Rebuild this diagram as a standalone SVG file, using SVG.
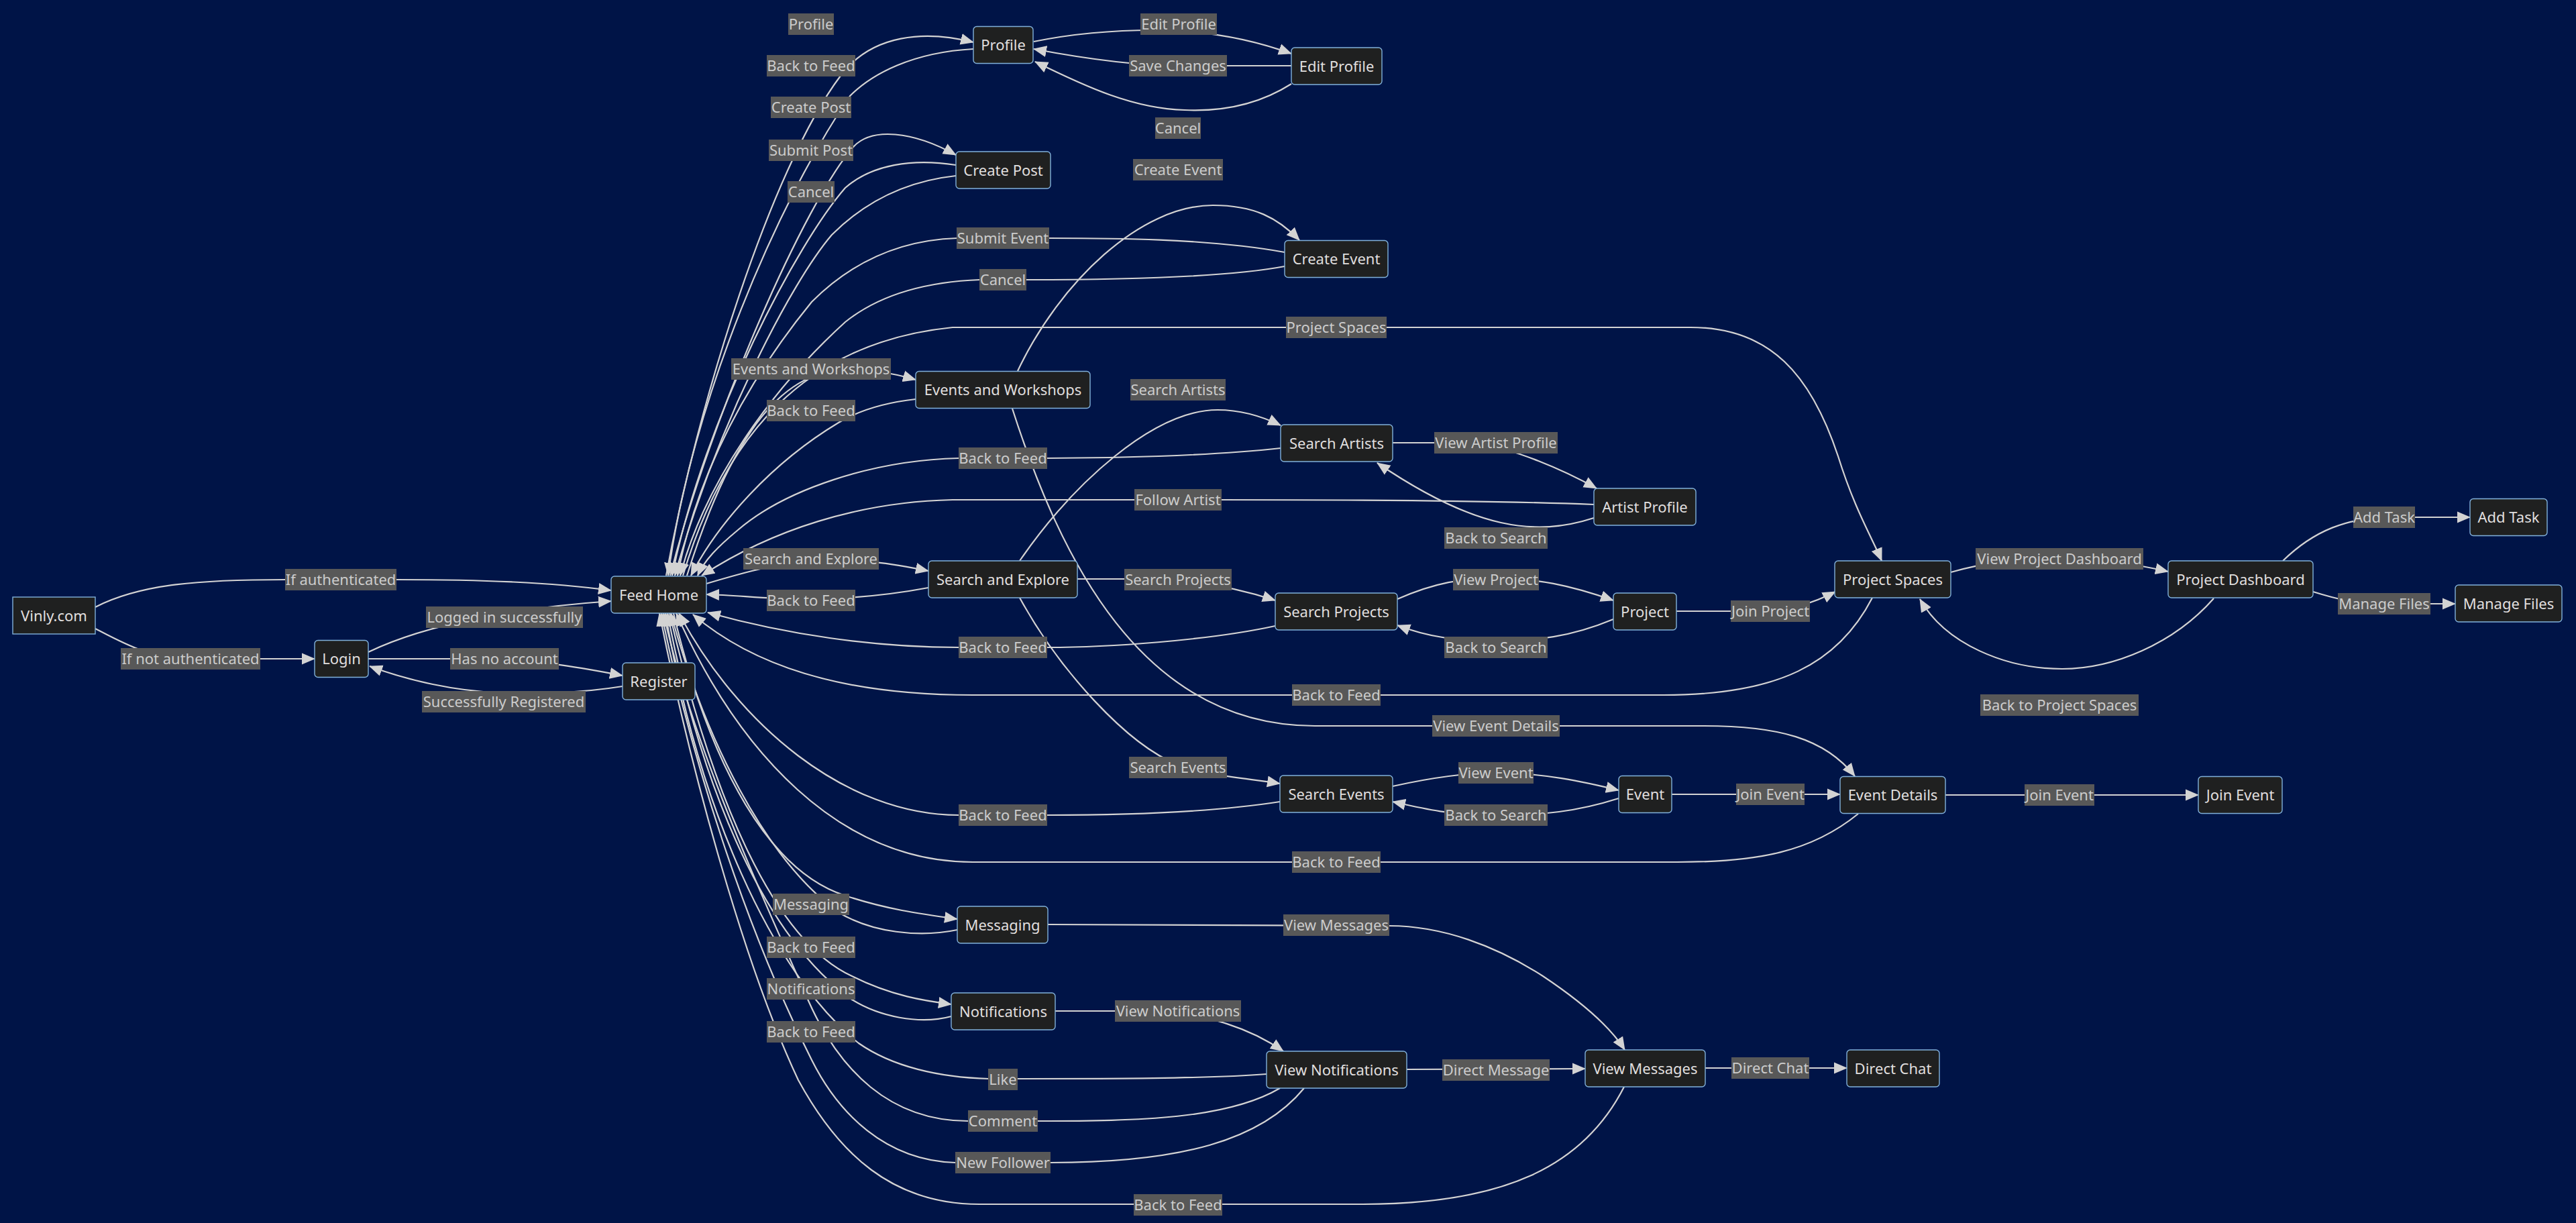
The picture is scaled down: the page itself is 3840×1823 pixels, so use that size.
<svg xmlns="http://www.w3.org/2000/svg" width="3840" height="1823" viewBox="0 0 3840 1823">
<defs>
<marker id="arrow" markerUnits="userSpaceOnUse" markerWidth="20" markerHeight="18" viewBox="0 0 20 18" refX="19" refY="9" orient="auto">
<path d="M0,0.5 L20,9 L0,17.5 z" fill="#d3d3d3"/>
</marker>
<style>
text{font-family:"Noto Sans","Open Sans","DejaVu Sans",sans-serif;font-size:22px;text-anchor:middle}
.node rect{fill:#1f2020;stroke:#81B1DB;stroke-width:1.4}
.node text{fill:#e0dfdf}
#connectors path{fill:none;stroke:#d3d3d3;stroke-width:2.2;marker-end:url(#arrow)}
.lbl rect{fill:#585858}
.lbl text{fill:#cccccc}
</style>
</defs>
<rect x="0" y="0" width="3840" height="1823" fill="#001447"/>

<g id="connectors">
<path d="M142,905 C210,870 300,864 426,864 L591,864 C720,864 820,868 911,880"/>
<path d="M142,937 C190,962 225,982 290,982 L469,982"/>
<path d="M549,972 C640,928 780,905 911,896"/>
<path d="M549,982 L700,982 C800,982 870,996 928,1007"/>
<path d="M928,1023 C860,1034 800,1034 740,1032 C680,1030 610,1015 551,993"/>
<path d="M993,858 C1040,600 1150,250 1253,113 C1300,50 1380,45 1451,63"/>
<path d="M1451,73 C1360,78 1300,110 1267,143 C1160,300 1030,600 996,858"/>
<path d="M1541,62 C1600,50 1660,45 1720,45 C1800,45 1870,60 1925,80"/>
<path d="M1925,98 L1760,98 C1700,98 1620,88 1541,73"/>
<path d="M1925,125 C1870,160 1810,166 1766,164 C1690,162 1620,130 1543,92"/>
<path d="M999,858 C1060,620 1200,300 1273,218 C1300,190 1360,195 1425,231"/>
<path d="M1425,246 C1360,236 1300,245 1260,280 C1190,360 1050,620 1002,858"/>
<path d="M1425,262 C1350,270 1290,300 1240,350 C1180,420 1070,630 1006,858"/>
<path d="M1517,553 C1580,420 1700,306 1808,306 C1870,306 1905,325 1937,358"/>
<path d="M1915,376 C1800,355 1650,355 1564,355 L1427,355 C1330,358 1260,400 1210,450 C1120,560 1040,700 1010,858"/>
<path d="M1915,397 C1820,415 1650,417 1530,417 L1461,417 C1380,420 1310,440 1260,480 C1150,580 1050,720 1014,858"/>
<path d="M1018,858 C1080,650 1200,510 1420,488 L2520,488 C2640,488 2700,560 2740,680 C2765,760 2790,800 2805,836"/>
<path d="M1024,858 C1080,680 1150,560 1250,552 C1300,550 1330,556 1365,566"/>
<path d="M1365,595 C1320,600 1280,612 1250,630 C1150,690 1070,780 1030,858"/>
<path d="M1520,836 C1600,720 1720,611 1815,611 C1850,611 1880,620 1909,634"/>
<path d="M1909,668 C1800,680 1650,683 1561,683 L1429,683 C1300,686 1170,730 1100,790 C1070,815 1050,835 1040,858"/>
<path d="M2376,752 C2200,745 1900,745 1821,745 L1420,745 C1280,748 1150,790 1046,858"/>
<path d="M2076,660 L2200,660 C2260,670 2330,700 2380,728"/>
<path d="M2376,772 C2290,800 2200,790 2053,690"/>
<path d="M1053,870 C1120,850 1160,840 1209,836 C1280,832 1330,840 1384,851"/>
<path d="M1384,876 C1320,888 1260,893 1200,893 C1140,893 1100,887 1053,886"/>
<path d="M1606,863 L1700,863 C1780,863 1850,878 1901,895"/>
<path d="M2083,893 C2140,868 2180,862 2230,862 C2290,862 2340,872 2405,895"/>
<path d="M2405,923 C2340,950 2290,955 2230,955 C2170,955 2130,950 2083,932"/>
<path d="M1901,933 C1800,955 1650,965 1561,965 L1429,965 C1300,965 1170,945 1055,913"/>
<path d="M2499,911 L2620,911 C2670,910 2705,898 2736,882"/>
<path d="M2908,853 C2960,838 3010,833 3070,833 C3130,833 3180,840 3232,852"/>
<path d="M3403,836 C3450,790 3500,772 3560,771 L3682,771"/>
<path d="M3448,882 C3480,892 3510,900 3554,900 L3660,900"/>
<path d="M3300,892 C3240,960 3150,997 3074,997 C2990,997 2900,960 2862,893"/>
<path d="M2791,891 C2740,990 2650,1036 2480,1036 L1450,1036 C1250,1036 1120,990 1033,916"/>
<path d="M1509,609 C1580,830 1700,1082 1960,1082 L2540,1082 C2650,1082 2720,1100 2765,1157"/>
<path d="M1520,891 C1580,1000 1680,1110 1756,1140 C1810,1158 1860,1160 1908,1168"/>
<path d="M2076,1172 C2130,1160 2180,1152 2230,1152 C2300,1152 2360,1165 2413,1178"/>
<path d="M2413,1190 C2350,1210 2300,1215 2230,1215 C2160,1215 2120,1205 2076,1195"/>
<path d="M1908,1195 C1800,1212 1650,1215 1561,1215 L1429,1215 C1260,1215 1100,1080 1012,914"/>
<path d="M2492,1184 L2743,1184"/>
<path d="M2900,1185 L3277,1185"/>
<path d="M2770,1213 C2700,1270 2620,1285 2500,1285 L1450,1285 C1250,1285 1100,1120 1008,914"/>
<path d="M1004,914 C1060,1150 1150,1300 1260,1335 C1320,1355 1370,1362 1427,1370"/>
<path d="M1427,1386 C1370,1398 1300,1390 1250,1360 C1140,1280 1050,1100 1000,914"/>
<path d="M1562,1378 L2071,1380 C2150,1380 2230,1410 2300,1455 C2360,1495 2400,1530 2422,1565"/>
<path d="M998,914 C1060,1180 1150,1400 1270,1455 C1330,1485 1380,1492 1418,1497"/>
<path d="M1418,1515 C1370,1528 1310,1515 1270,1490 C1130,1390 1040,1150 995,914"/>
<path d="M1573,1507 L1740,1507 C1800,1515 1860,1530 1913,1567"/>
<path d="M1888,1601 C1800,1608 1650,1608 1517,1608 L1474,1608 C1400,1606 1330,1590 1280,1555 C1150,1450 1040,1200 992,914"/>
<path d="M1908,1622 C1830,1668 1700,1671 1546,1671 L1443,1671 C1330,1671 1250,1600 1200,1480 C1120,1300 1030,1100 989,914"/>
<path d="M1944,1622 C1880,1700 1760,1733 1566,1733 L1424,1733 C1320,1730 1250,1660 1210,1580 C1110,1380 1030,1130 986,914"/>
<path d="M2097,1594 L2363,1593"/>
<path d="M2542,1592 L2753,1592"/>
<path d="M2421,1620 C2360,1740 2240,1795 2030,1795 L1460,1795 C1330,1795 1250,1720 1190,1610 C1110,1440 1030,1150 983,914"/>
</g>

<g id="edge-labels">
<g class="lbl" transform="translate(508,864)"><rect x="-83" y="-16" width="166" height="32"/><text y="8">If authenticated</text></g>
<g class="lbl" transform="translate(284,982)"><rect x="-104" y="-16" width="208" height="32"/><text y="8">If not authenticated</text></g>
<g class="lbl" transform="translate(752,920)"><rect x="-117" y="-16" width="234" height="32"/><text y="8">Logged in successfully</text></g>
<g class="lbl" transform="translate(752,982)"><rect x="-81" y="-16" width="162" height="32"/><text y="8">Has no account</text></g>
<g class="lbl" transform="translate(751,1046)"><rect x="-122" y="-16" width="244" height="32"/><text y="8">Successfully Registered</text></g>
<g class="lbl" transform="translate(1209,36)"><rect x="-34" y="-16" width="68" height="32"/><text y="8">Profile</text></g>
<g class="lbl" transform="translate(1209,98)"><rect x="-66" y="-16" width="132" height="32"/><text y="8">Back to Feed</text></g>
<g class="lbl" transform="translate(1757,36)"><rect x="-57" y="-16" width="114" height="32"/><text y="8">Edit Profile</text></g>
<g class="lbl" transform="translate(1756,98)"><rect x="-73" y="-16" width="146" height="32"/><text y="8">Save Changes</text></g>
<g class="lbl" transform="translate(1209,160)"><rect x="-60" y="-16" width="120" height="32"/><text y="8">Create Post</text></g>
<g class="lbl" transform="translate(1756,191)"><rect x="-34" y="-16" width="68" height="32"/><text y="8">Cancel</text></g>
<g class="lbl" transform="translate(1209,224)"><rect x="-63" y="-16" width="126" height="32"/><text y="8">Submit Post</text></g>
<g class="lbl" transform="translate(1756,253)"><rect x="-67" y="-16" width="134" height="32"/><text y="8">Create Event</text></g>
<g class="lbl" transform="translate(1209,286)"><rect x="-35" y="-16" width="70" height="32"/><text y="8">Cancel</text></g>
<g class="lbl" transform="translate(1495,355)"><rect x="-69" y="-16" width="138" height="32"/><text y="8">Submit Event</text></g>
<g class="lbl" transform="translate(1495,417)"><rect x="-35" y="-16" width="70" height="32"/><text y="8">Cancel</text></g>
<g class="lbl" transform="translate(1992,488)"><rect x="-75" y="-16" width="150" height="32"/><text y="8">Project Spaces</text></g>
<g class="lbl" transform="translate(1209,550)"><rect x="-119" y="-16" width="238" height="32"/><text y="8">Events and Workshops</text></g>
<g class="lbl" transform="translate(1756,581)"><rect x="-71" y="-16" width="142" height="32"/><text y="8">Search Artists</text></g>
<g class="lbl" transform="translate(1209,612)"><rect x="-66" y="-16" width="132" height="32"/><text y="8">Back to Feed</text></g>
<g class="lbl" transform="translate(1495,683)"><rect x="-66" y="-16" width="132" height="32"/><text y="8">Back to Feed</text></g>
<g class="lbl" transform="translate(1756,745)"><rect x="-65" y="-16" width="130" height="32"/><text y="8">Follow Artist</text></g>
<g class="lbl" transform="translate(2230,660)"><rect x="-92" y="-16" width="184" height="32"/><text y="8">View Artist Profile</text></g>
<g class="lbl" transform="translate(2230,802)"><rect x="-77" y="-16" width="154" height="32"/><text y="8">Back to Search</text></g>
<g class="lbl" transform="translate(1209,833)"><rect x="-101" y="-16" width="202" height="32"/><text y="8">Search and Explore</text></g>
<g class="lbl" transform="translate(1756,864)"><rect x="-80" y="-16" width="160" height="32"/><text y="8">Search Projects</text></g>
<g class="lbl" transform="translate(2230,864)"><rect x="-64" y="-16" width="128" height="32"/><text y="8">View Project</text></g>
<g class="lbl" transform="translate(1209,895)"><rect x="-66" y="-16" width="132" height="32"/><text y="8">Back to Feed</text></g>
<g class="lbl" transform="translate(2639,911)"><rect x="-59" y="-16" width="118" height="32"/><text y="8">Join Project</text></g>
<g class="lbl" transform="translate(2230,965)"><rect x="-77" y="-16" width="154" height="32"/><text y="8">Back to Search</text></g>
<g class="lbl" transform="translate(1495,965)"><rect x="-66" y="-16" width="132" height="32"/><text y="8">Back to Feed</text></g>
<g class="lbl" transform="translate(3070,833)"><rect x="-125" y="-16" width="250" height="32"/><text y="8">View Project Dashboard</text></g>
<g class="lbl" transform="translate(3554,771)"><rect x="-46" y="-16" width="92" height="32"/><text y="8">Add Task</text></g>
<g class="lbl" transform="translate(3554,900)"><rect x="-69" y="-16" width="138" height="32"/><text y="8">Manage Files</text></g>
<g class="lbl" transform="translate(1992,1036)"><rect x="-66" y="-16" width="132" height="32"/><text y="8">Back to Feed</text></g>
<g class="lbl" transform="translate(3070,1051)"><rect x="-118" y="-16" width="236" height="32"/><text y="8">Back to Project Spaces</text></g>
<g class="lbl" transform="translate(2230,1082)"><rect x="-95" y="-16" width="190" height="32"/><text y="8">View Event Details</text></g>
<g class="lbl" transform="translate(1756,1144)"><rect x="-73" y="-16" width="146" height="32"/><text y="8">Search Events</text></g>
<g class="lbl" transform="translate(2230,1152)"><rect x="-56" y="-16" width="112" height="32"/><text y="8">View Event</text></g>
<g class="lbl" transform="translate(2639,1184)"><rect x="-51" y="-16" width="102" height="32"/><text y="8">Join Event</text></g>
<g class="lbl" transform="translate(3070,1185)"><rect x="-52" y="-16" width="104" height="32"/><text y="8">Join Event</text></g>
<g class="lbl" transform="translate(2230,1215)"><rect x="-77" y="-16" width="154" height="32"/><text y="8">Back to Search</text></g>
<g class="lbl" transform="translate(1495,1215)"><rect x="-66" y="-16" width="132" height="32"/><text y="8">Back to Feed</text></g>
<g class="lbl" transform="translate(1992,1285)"><rect x="-66" y="-16" width="132" height="32"/><text y="8">Back to Feed</text></g>
<g class="lbl" transform="translate(1209,1348)"><rect x="-57" y="-16" width="114" height="32"/><text y="8">Messaging</text></g>
<g class="lbl" transform="translate(1992,1379)"><rect x="-79" y="-16" width="158" height="32"/><text y="8">View Messages</text></g>
<g class="lbl" transform="translate(1209,1412)"><rect x="-66" y="-16" width="132" height="32"/><text y="8">Back to Feed</text></g>
<g class="lbl" transform="translate(1209,1474)"><rect x="-66" y="-16" width="132" height="32"/><text y="8">Notifications</text></g>
<g class="lbl" transform="translate(1756,1507)"><rect x="-94" y="-16" width="188" height="32"/><text y="8">View Notifications</text></g>
<g class="lbl" transform="translate(1209,1538)"><rect x="-66" y="-16" width="132" height="32"/><text y="8">Back to Feed</text></g>
<g class="lbl" transform="translate(2230,1595)"><rect x="-80" y="-16" width="160" height="32"/><text y="8">Direct Message</text></g>
<g class="lbl" transform="translate(1495,1609)"><rect x="-22" y="-16" width="44" height="32"/><text y="8">Like</text></g>
<g class="lbl" transform="translate(1495,1671)"><rect x="-52" y="-16" width="104" height="32"/><text y="8">Comment</text></g>
<g class="lbl" transform="translate(1495,1733)"><rect x="-71" y="-16" width="142" height="32"/><text y="8">New Follower</text></g>
<g class="lbl" transform="translate(2639,1592)"><rect x="-58" y="-16" width="116" height="32"/><text y="8">Direct Chat</text></g>
<g class="lbl" transform="translate(1756,1796)"><rect x="-66" y="-16" width="132" height="32"/><text y="8">Back to Feed</text></g>
</g>

<g id="n-vinly" class="node" transform="translate(80.5,917.5)"><rect x="-61.5" y="-27.5" width="123" height="55"/><text y="8">Vinly.com</text></g>
<g id="n-login" class="node" transform="translate(509,982)"><rect x="-40" y="-27.5" width="80" height="55" rx="5"/><text y="8">Login</text></g>
<g id="n-feed" class="node" transform="translate(982,886.5)"><rect x="-71" y="-27.5" width="142" height="55" rx="5"/><text y="8">Feed Home</text></g>
<g id="n-register" class="node" transform="translate(982,1015.5)"><rect x="-54" y="-27.5" width="108" height="55" rx="5"/><text y="8">Register</text></g>
<g id="n-profile" class="node" transform="translate(1495.5,67)"><rect x="-44.5" y="-27.5" width="89" height="55" rx="5"/><text y="8">Profile</text></g>
<g id="n-createpost" class="node" transform="translate(1495.5,253.5)"><rect x="-70.5" y="-27.5" width="141" height="55" rx="5"/><text y="8">Create Post</text></g>
<g id="n-events" class="node" transform="translate(1495,581)"><rect x="-130" y="-27.5" width="260" height="55" rx="5"/><text y="8">Events and Workshops</text></g>
<g id="n-search" class="node" transform="translate(1495,863.5)"><rect x="-111" y="-27.5" width="222" height="55" rx="5"/><text y="8">Search and Explore</text></g>
<g id="n-messaging" class="node" transform="translate(1494.5,1378.5)"><rect x="-67.5" y="-27.5" width="135" height="55" rx="5"/><text y="8">Messaging</text></g>
<g id="n-notifications" class="node" transform="translate(1495.5,1507.5)"><rect x="-77.5" y="-27.5" width="155" height="55" rx="5"/><text y="8">Notifications</text></g>
<g id="n-editprofile" class="node" transform="translate(1992.5,98.5)"><rect x="-67.5" y="-27.5" width="135" height="55" rx="5"/><text y="8">Edit Profile</text></g>
<g id="n-createevent" class="node" transform="translate(1992,386)"><rect x="-77" y="-27.5" width="154" height="55" rx="5"/><text y="8">Create Event</text></g>
<g id="n-searchartists" class="node" transform="translate(1992.5,660.5)"><rect x="-83.5" y="-27.5" width="167" height="55" rx="5"/><text y="8">Search Artists</text></g>
<g id="n-searchprojects" class="node" transform="translate(1992,911.5)"><rect x="-91" y="-27.5" width="182" height="55" rx="5"/><text y="8">Search Projects</text></g>
<g id="n-searchevents" class="node" transform="translate(1992,1183.5)"><rect x="-84" y="-27.5" width="168" height="55" rx="5"/><text y="8">Search Events</text></g>
<g id="n-viewnotifications" class="node" transform="translate(1992.5,1594.5)"><rect x="-104.5" y="-27.5" width="209" height="55" rx="5"/><text y="8">View Notifications</text></g>
<g id="n-artistprofile" class="node" transform="translate(2452,755.5)"><rect x="-76" y="-27.5" width="152" height="55" rx="5"/><text y="8">Artist Profile</text></g>
<g id="n-project" class="node" transform="translate(2452,911.5)"><rect x="-47" y="-27.5" width="94" height="55" rx="5"/><text y="8">Project</text></g>
<g id="n-event" class="node" transform="translate(2452.5,1184)"><rect x="-39.5" y="-27.5" width="79" height="55" rx="5"/><text y="8">Event</text></g>
<g id="n-viewmessages" class="node" transform="translate(2452.5,1592.5)"><rect x="-89.5" y="-27.5" width="179" height="55" rx="5"/><text y="8">View Messages</text></g>
<g id="n-projectspaces" class="node" transform="translate(2821.5,863.5)"><rect x="-86.5" y="-27.5" width="173" height="55" rx="5"/><text y="8">Project Spaces</text></g>
<g id="n-eventdetails" class="node" transform="translate(2821.5,1185)"><rect x="-78.5" y="-27.5" width="157" height="55" rx="5"/><text y="8">Event Details</text></g>
<g id="n-directchat" class="node" transform="translate(2822,1592.5)"><rect x="-69" y="-27.5" width="138" height="55" rx="5"/><text y="8">Direct Chat</text></g>
<g id="n-projectdashboard" class="node" transform="translate(3340,863.5)"><rect x="-108" y="-27.5" width="216" height="55" rx="5"/><text y="8">Project Dashboard</text></g>
<g id="n-joinevent" class="node" transform="translate(3339.5,1185)"><rect x="-62.5" y="-27.5" width="125" height="55" rx="5"/><text y="8">Join Event</text></g>
<g id="n-addtask" class="node" transform="translate(3739.5,771)"><rect x="-57.5" y="-27.5" width="115" height="55" rx="5"/><text y="8">Add Task</text></g>
<g id="n-managefiles" class="node" transform="translate(3739.5,899.5)"><rect x="-79.5" y="-27.5" width="159" height="55" rx="5"/><text y="8">Manage Files</text></g>
</svg>
